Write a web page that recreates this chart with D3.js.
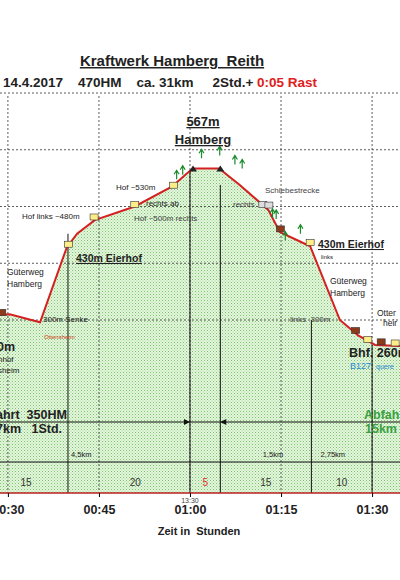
<!DOCTYPE html>
<html><head><meta charset="utf-8">
<script src="https://cdn.jsdelivr.net/npm/d3@7"></script>
<style>body{margin:0;background:#fff}text{font-family:Arial,"Liberation Sans",sans-serif}</style>
</head><body><svg width="400" height="580"></svg>
<script>
// profile: time in minutes, elevation in m
const times = [28.7, 30.3, 35.3, 39.7, 41.4, 44.3, 50.9, 57.0, 60.0, 60.8, 64.8, 68.2, 72.9, 74.8, 77.6, 79.8, 84.7, 87.7, 90.5, 94.6];
const elevs = [309, 310, 296, 428, 452, 476, 500, 535, 563, 567, 567, 538, 494, 455, 441, 430, 300, 273, 256, 254];
const tickMinutes = [30, 45, 60, 75, 90];
const tickLabels = ["00:30", "00:45", "01:00", "01:15", "01:30"];
const gridElev = [300, 400, 500, 600, 700];
const splitTimes = [39.9, 60, 65, 80, 90];          // solid verticals
const segDur = [[33, "15"], [51, "20"], [62.5, "5"], [72.5, "15"], [85, "10"]];
const segKm = [[40.4, "4,5km"], [72, "1,5km"], [81.5, "2,75km"]];
const houses = [[29, 310, "#8b3a1a"], [40, 430, "#ffee88"], [44.2, 478, "#ffee88"], [50.9, 500, "#ffee88"], [57.3, 534, "#ffee88"],
  [72, 500, "#ddd"], [73, 499, "#ddd"], [74.9, 457, "#8b3a1a"], [79.8, 433, "#ffee88"], [87.3, 278, "#8b3a1a"], [89.3, 262, "#ffee88"],
  [91.5, 258, "#8b3a1a"], [93.8, 256, "#ffee88"]];
const trees = [[57.8, 548], [58.8, 556], [61.9, 585], [64.9, 590], [67.4, 574], [68.6, 567], [73.6, 480], [74.2, 478], [75.7, 440], [78.2, 452]];

const svg = d3.select("svg");
const x = d3.scaleLinear().domain([28.7, 94.6]).range([0, 400]);
const y = d3.scaleLinear().domain([300, 700]).range([320, 93]);
const base = 493;

const defs = svg.append("defs");
const pat = defs.append("pattern").attr("id", "dots").attr("width", 3).attr("height", 3).attr("patternUnits", "userSpaceOnUse");
pat.append("rect").attr("width", 3).attr("height", 3).attr("fill", "#e4f6dc");
pat.append("rect").attr("width", 1).attr("height", 1).attr("fill", "#7cc070");
pat.append("rect").attr("x", 1.5).attr("y", 1.5).attr("width", 1).attr("height", 1).attr("fill", "#9ad290");

const pts = times.map((t, i) => [t, elevs[i]]);
svg.append("path").datum(pts).attr("fill", "url(#dots)")
  .attr("d", d3.area().x(d => x(d[0])).y0(base).y1(d => y(d[1])));

// grid
svg.selectAll(".hg").data(gridElev).enter().append("line")
  .attr("x1", 0).attr("x2", 400).attr("y1", d => y(d)).attr("y2", d => y(d))
  .attr("stroke", "#333").attr("stroke-width", 0.8).attr("stroke-dasharray", "2,2");
svg.selectAll(".vg").data(tickMinutes).enter().append("line")
  .attr("x1", d => x(d)).attr("x2", d => x(d)).attr("y1", 96).attr("y2", base)
  .attr("stroke", "#333").attr("stroke-width", 0.8).attr("stroke-dasharray", "2,2");
svg.selectAll(".vs").data(splitTimes).enter().append("line")
  .attr("x1", d => x(d)).attr("x2", d => x(d))
  .attr("y1", d => y(elevs[d3.bisectLeft(times, d)] || 300)).attr("y2", base)
  .attr("stroke", "#111").attr("stroke-width", 1);
[422, 462].forEach(v => svg.append("line").attr("x1", 0).attr("x2", 400).attr("y1", v).attr("y2", v).attr("stroke", "#111"));
svg.append("line").attr("x1", 0).attr("x2", 400).attr("y1", base).attr("y2", base).attr("stroke", "#b22").attr("stroke-width", 1.5);

// arrows
svg.append("path").attr("d", `M${x(60) - 6},419 L${x(60)},422 L${x(60) - 6},425Z`).attr("fill", "#111");
svg.append("path").attr("d", `M${x(65) + 6},419 L${x(65)},422 L${x(65) + 6},425Z`).attr("fill", "#111");

// profile line
svg.append("path").datum(pts).attr("fill", "none").attr("stroke", "#d42020").attr("stroke-width", 2)
  .attr("d", d3.line().x(d => x(d[0])).y(d => y(d[1])));

// icons
svg.selectAll(".hs").data(houses).enter().append("rect")
  .attr("x", d => x(d[0]) - 4).attr("y", d => y(d[1]) - 5).attr("width", 8).attr("height", 6)
  .attr("fill", d => d[2]).attr("stroke", "#333").attr("stroke-width", 0.6);
svg.selectAll(".tr").data(trees).enter().append("path")
  .attr("d", d => `M${x(d[0])},${y(d[1])} v-8 M${x(d[0]) - 2.5},${y(d[1]) - 5} l2.5,-4 l2.5,4`)
  .attr("stroke", "#1a8a2a").attr("stroke-width", 1.2).attr("fill", "none");
svg.selectAll(".pk").data([60.5, 65]).enter().append("path")
  .attr("d", d => `M${x(d) - 4},${y(565) + 2} l4,-6 l4,6Z`).attr("fill", "#222");

// axis
const ax = svg.append("g").attr("transform", `translate(0,${base})`)
  .call(d3.axisBottom(x).tickValues(tickMinutes).tickSize(4).tickFormat((d, i) => tickLabels[i]));
ax.select(".domain").remove();
ax.selectAll("text").attr("font-size", 12.5).attr("font-weight", "bold").attr("dy", 14).attr("fill", "#222");

const txt = (xx, yy, s, o = {}) => svg.append("text").attr("x", xx).attr("y", yy).text(s)
  .attr("font-size", o.fs || 8).attr("font-weight", o.b ? "bold" : null).attr("fill", o.c || "#222")
  .attr("text-anchor", o.a || "start").attr("text-decoration", o.u ? "underline" : null);

txt(172, 66, "Kraftwerk Hamberg  Reith", {fs: 15, b: 1, a: "middle", u: 1}).style("white-space", "pre");
const st = txt(3, 87, "14.4.2017    470HM    ca. 31km     2Std.+ ", {fs: 13.5, b: 1});
st.style("white-space", "pre");
st.append("tspan").attr("fill", "#e02020").text("0:05 Rast");
txt(203, 126, "567m", {fs: 13, b: 1, a: "middle", u: 1});
txt(203, 144, "Hamberg", {fs: 13, b: 1, a: "middle", u: 1});
txt(116, 190, "Hof ~530m", {fs: 8});
txt(146, 206, "rechts ab", {fs: 8});
txt(134, 221, "Hof ~500m rechts", {fs: 8, c: "#444"});
txt(22, 219, "Hof links ~480m", {fs: 8});
txt(265, 193, "Schiebestrecke", {fs: 8, c: "#444"});
txt(233, 207, "rechts", {fs: 8, c: "#444"});
txt(76, 262, "430m Eierhof", {fs: 10.5, b: 1, u: 1});
txt(318, 248, "430m Eierhof", {fs: 10.5, b: 1, u: 1});
txt(321, 259, "links", {fs: 6});
txt(7, 275, "Güterweg", {fs: 8.5});
txt(7, 287, "Hamberg", {fs: 8.5});
txt(330, 284, "Güterweg", {fs: 8.5});
txt(330, 296, "Hamberg", {fs: 8.5});
txt(43, 322, "300m Senke", {fs: 8});
txt(44, 339, "Ottensheim", {fs: 6, c: "#d04020"});
txt(290, 322, "links  300m", {fs: 8, c: "#444"}).style("white-space", "pre");
txt(377, 316, "Otter", {fs: 8.5});
txt(383, 326, "heir", {fs: 8.5});
txt(-3, 351, "0m", {fs: 12.5, b: 1});
txt(-2, 362, "nhof", {fs: 8});
txt(-2, 373, "sheim", {fs: 8});
txt(349, 357, "Bhf. 260m", {fs: 12.5, b: 1});
txt(350, 369, "B127", {fs: 9, c: "#2a8ad0"});
txt(376, 369, "quere", {fs: 7, c: "#2a8ad0"});
txt(-4, 419, "ahrt  350HM", {fs: 12.5, b: 1}).style("white-space", "pre");
txt(-4, 433, "7km   1Std.", {fs: 12.5, b: 1}).style("white-space", "pre");
txt(364, 419, "Abfah", {fs: 12.5, b: 1, c: "#3aa040"});
txt(365, 433, "15km", {fs: 12.5, b: 1, c: "#3aa040"});
svg.selectAll(".km").data(segKm).enter().append("text")
  .attr("x", d => x(d[0])).attr("y", 457).text(d => d[1]).attr("font-size", 7.5).attr("fill", "#222");
svg.selectAll(".dur").data(segDur).enter().append("text")
  .attr("x", d => x(d[0])).attr("y", 486).attr("text-anchor", "middle").text(d => d[1])
  .attr("font-size", 10).attr("fill", d => d[1] === "5" ? "#e03030" : "#333");
txt(x(60), 503, "13:30", {fs: 7, a: "middle", c: "#444"});
txt(199, 535, "Zeit in  Stunden", {fs: 11, b: 1, a: "middle"}).style("white-space", "pre");
</script></body></html>
